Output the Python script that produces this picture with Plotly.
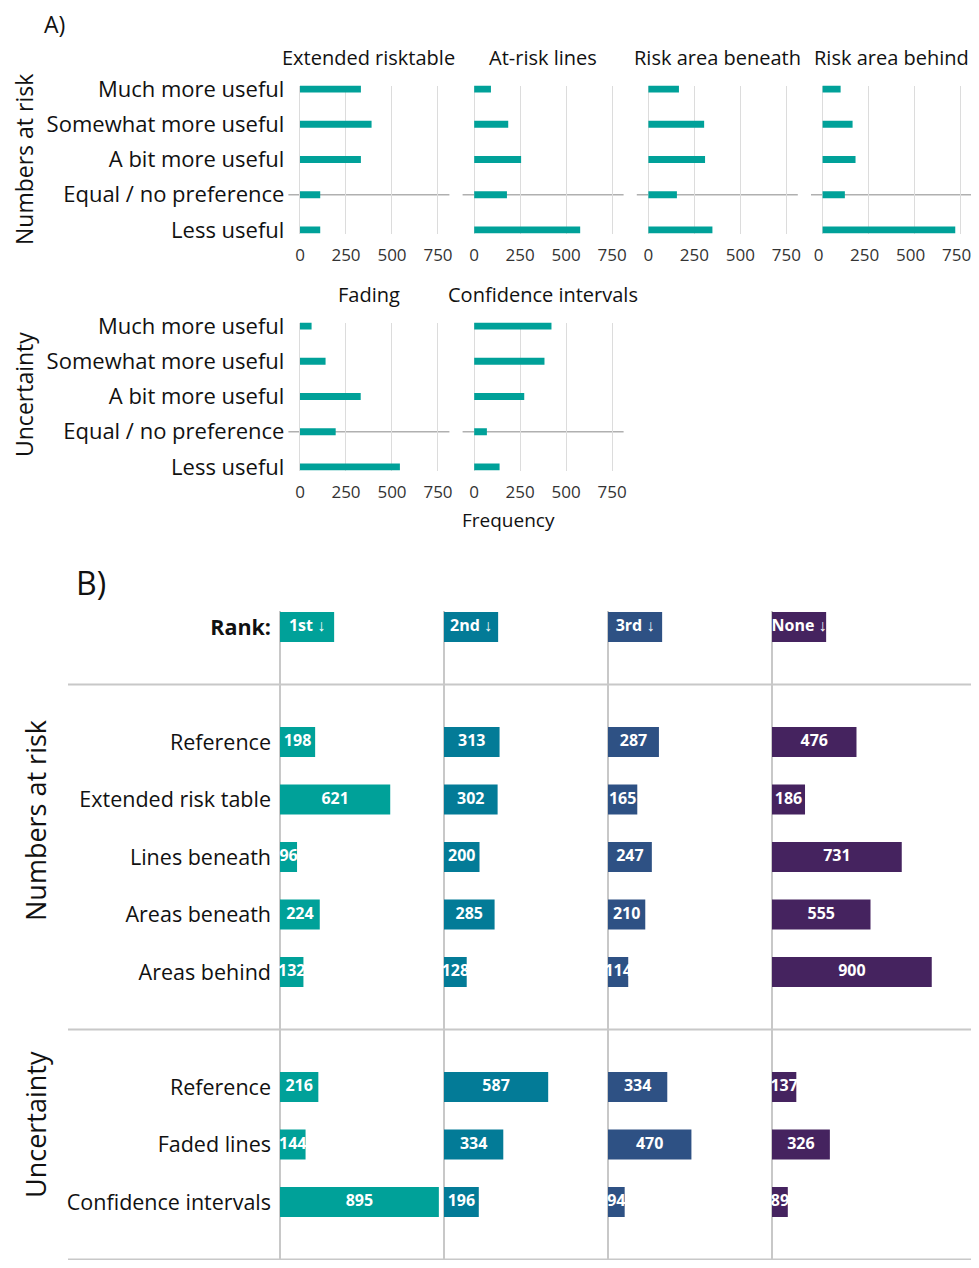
import plotly.graph_objects as go

W, H = 979, 1268
OFF = 8  # page body margin; the figure is drawn in the remaining area
FONT = "Open Sans"
TEAL = "#00a199"
RANK_COLORS = ["#00a199", "#037b97", "#2e5184", "#45235f"]

# ---- panel A data: usefulness ratings ----
levels = ["Much more useful", "Somewhat more useful", "A bit more useful",
          "Equal / no preference", "Less useful"]
extended_risktable = [331, 389, 331, 110, 110]
at_risk_lines = [91, 185, 255, 178, 576]
risk_area_beneath = [166, 303, 308, 155, 348]
risk_area_behind = [98, 163, 179, 121, 721]
fading = [63, 139, 330, 194, 543]
confidence_intervals = [420, 382, 272, 69, 138]
freq_ticks = [0, 250, 500, 750]

# ---- panel B data: ranking counts ----
ranks = ["1st", "2nd", "3rd", "None"]
nar_items = ["Reference", "Extended risk table", "Lines beneath",
             "Areas beneath", "Areas behind"]
nar_counts = {
    "1st": [198, 621, 96, 224, 132],
    "2nd": [313, 302, 200, 285, 128],
    "3rd": [287, 165, 247, 210, 114],
    "None": [476, 186, 731, 555, 900],
}
unc_items = ["Reference", "Faded lines", "Confidence intervals"]
unc_counts = {
    "1st": [216, 144, 895],
    "2nd": [587, 334, 196],
    "3rd": [334, 470, 94],
    "None": [137, 326, 89],
}

FW, FH = W - OFF, H - 2 * OFF


def fx(px):
    return (px - OFF) / FW


def fy(px):
    return 1 - (px - OFF) / FH


def ax_names(i):
    s = "" if i == 1 else str(i)
    return f"x{s}", f"y{s}", f"xaxis{s}", f"yaxis{s}"


def note(text, x, y, size, **kw):
    d = dict(text=text, x=fx(x), y=fy(y), xref="paper", yref="paper",
             showarrow=False, xanchor="center", yanchor="middle",
             font=dict(size=size, color="#111"))
    d.update(kw)
    return d


fig = go.Figure()
layout = {}
annotations = []
shapes = []

# ---------------- panel A ----------------
panels_a = [
    ("Extended risktable", extended_risktable, 0, 0),
    ("At-risk lines", at_risk_lines, 0, 1),
    ("Risk area beneath", risk_area_beneath, 0, 2),
    ("Risk area behind", risk_area_behind, 0, 3),
    ("Fading", fading, 1, 0),
    ("Confidence intervals", confidence_intervals, 1, 1),
]
col_left = [288.4, 462.6, 636.8, 811.0]
col_w = 161
row_top = [85.5, 322.5]
row_h = 148

for i, (title, vals, r, c) in enumerate(panels_a, start=1):
    xa, ya, xk, yk = ax_names(i)
    x0, x1 = col_left[c], col_left[c] + col_w
    y0, y1 = row_top[r], row_top[r] + row_h
    fig.add_trace(go.Bar(x=vals, y=levels, orientation="h", width=0.2,
                         marker=dict(color=TEAL, line=dict(width=0)),
                         xaxis=xa, yaxis=ya, showlegend=False))
    layout[xk] = dict(
        domain=[fx(x0), fx(x1)], anchor=ya, range=[-63, 812],
        tickvals=freq_ticks, showgrid=True, gridcolor="#dcdcdc", gridwidth=1,
        zeroline=False, ticks="", tickfont=dict(size=17, color="#333"),
        ticklabelstandoff=9, automargin=False, ticklabeloverflow="allow",
        ticklabelshift=-4 if c == 3 else 0,
    )
    layout[yk] = dict(
        domain=[fy(y1), fy(y0)], anchor=xa, type="category",
        categoryorder="array", categoryarray=levels, range=[4.1, -0.1],
        showgrid=False, zeroline=False, ticks="",
        showticklabels=(c == 0), tickfont=dict(size=22, color="#111"),
        ticklabelstandoff=3, automargin=False,
    )
    annotations.append(note(title, x0 + col_w / 2, y0 - 28, 20))
    shapes.append(dict(
        type="line", xref=f"{xa} domain", yref=ya, x0=0, x1=1, y0=3, y1=3,
        line=dict(color="#b0b0b0", width=1.5), layer="below"))

annotations += [
    note("A)", 42, 24, 23, xanchor="left"),
    note("Numbers at risk", 24, 160, 23, textangle=-90),
    note("Uncertainty", 24, 395, 23, textangle=-90),
    note("Frequency", 508, 520, 19),
]

# ---------------- panel B ----------------
step = 57.5
header_y = 627
nar_pos = [2 + k for k in range(len(nar_items))]
unc_pos = [nar_pos[-1] + 2 + k for k in range(len(unc_items))]
sep_pos = [1, nar_pos[-1] + 1, unc_pos[-1] + 1]
b_top, b_bot = 611, OFF + FH
yrange = [(b_bot - header_y) / step, (b_top - header_y) / step]
header_len = 305
b_left = [280, 444, 608, 772]
b_w = 164
bar_w = 30 / step

for j, rank in enumerate(ranks):
    xa, ya, xk, yk = ax_names(7 + j)
    vals = nar_counts[rank] + unc_counts[rank]
    pos = nar_pos + unc_pos
    color = RANK_COLORS[j]
    fig.add_trace(go.Bar(x=vals, y=pos, orientation="h", width=bar_w,
                         marker=dict(color=color, line=dict(width=0)),
                         xaxis=xa, yaxis=ya, showlegend=False))
    fig.add_trace(go.Bar(x=[header_len], y=[0], orientation="h", width=bar_w,
                         marker=dict(color=color, line=dict(width=0)),
                         xaxis=xa, yaxis=ya, showlegend=False))
    fig.add_trace(go.Scatter(
        x=[v / 2 for v in vals] + [header_len / 2], y=pos + [0],
        text=[str(v) for v in vals] + [f"{rank} ↓"], mode="text",
        textfont=dict(family=FONT, size=16, color="white", weight="bold"),
        xaxis=xa, yaxis=ya, showlegend=False, cliponaxis=False))
    layout[xk] = dict(
        domain=[fx(b_left[j]), fx(b_left[j] + b_w)], anchor=ya,
        range=[0, b_w / 0.1775], visible=False, automargin=False)
    layout[yk] = dict(
        domain=[fy(b_bot), fy(b_top)], anchor=xa, range=yrange,
        showgrid=False, zeroline=False, ticks="",
        showticklabels=(j == 0),
        tickvals=[0] + nar_pos + unc_pos,
        ticktext=["<b>Rank:</b>"] + nar_items + unc_items,
        tickfont=dict(size=21.5, color="#111"), ticklabelstandoff=8,
        automargin=False,
    )
    shapes.append(dict(
        type="line", xref=f"{xa} domain", yref="paper", x0=0, x1=0,
        y0=fy(b_bot), y1=fy(b_top), line=dict(color="#c8c8c8", width=2),
        layer="below"))

for s in sep_pos:
    shapes.append(dict(
        type="line", xref="paper", yref="y7", x0=fx(68), x1=fx(975),
        y0=s, y1=s, line=dict(color="#c8c8c8", width=2), layer="below"))

annotations += [
    note("B)", 74, 582, 32, xanchor="left"),
    note("Numbers at risk", 35, 821, 27, textangle=-90),
    note("Uncertainty", 35, 1125, 27, textangle=-90),
]

fig.update_layout(
    width=FW, height=FH, margin=dict(l=0, r=0, t=0, b=0, pad=0),
    plot_bgcolor="white", paper_bgcolor="white",
    font=dict(family=FONT, color="#111"), barmode="overlay",
    annotations=annotations, shapes=shapes, **layout,
)

fig.write_html("out.html")
